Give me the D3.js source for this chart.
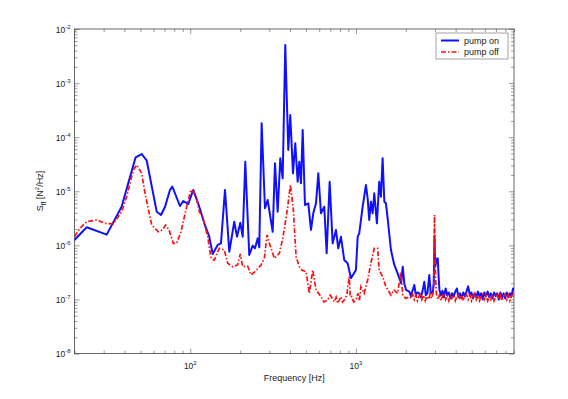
<!DOCTYPE html>
<html><head><meta charset="utf-8">
<script src="https://cdn.jsdelivr.net/npm/d3@7"></script>
<style>
body{margin:0;background:#fff;}
text{font-family:"Liberation Sans",Arial,Helvetica,sans-serif;fill:#222;}
</style></head>
<body><svg id="c" width="568" height="399"></svg>
<script>
// ---- data (frequency in Hz, S_ff in N^2/Hz) ----
const freqOn = [20,23.7,31.3,38.5,43.3,46.8,50.9,54.6,62.7,66.6,70.4,75.4,77.9,86.7,90.7,97.3,104.2,113.3,121.5,130.2,136.5,146.4,153.2,162,172,184.3,191.4,200.4,207.2,214.8,227,238,245.8,255.3,260.9,269.7,282.4,293.2,314.4,324.6,337,349.4,361.2,374.5,390.4,401.4,416.8,430.3,444.9,455,465.9,477,492.5,515.7,535.4,552.8,574,592.7,615.2,643.8,665.7,694,723.5,757.5,782.2,812,850,891,933,1000,1025,1047,1098,1122,1149,1177,1203,1231,1261,1290,1339,1382,1415,1449,1484,1517,1554,1627,1705,1785,1872,1917,1959,2006,2101,2150,2200,2252,2300,2350,2414,2460,2520,2588,2640,2700,2773,2830,2907,2950,2980,3010,3060,3117,3160,3193,3260,3330,3400,3480,3560,3640,3720,3800,3890,3980,4070,4160,4250,4350,4450,4550,4650,4760,4870,4980,5090,5210,5330,5450,5570,5700,5830,5960,6100,6240,6380,6520,6670,6820,6970,7130,7290,7450,7620,7790,7960,8140,8320,8500,8690,8880,9000];
const sffOn = [1.26e-6,2.16e-6,1.58e-6,5.19e-6,1.86e-5,4.25e-5,4.89e-5,3.68e-5,4.2e-6,3.65e-6,5.19e-6,1.06e-5,1.22e-5,5.35e-6,6.62e-6,5.82e-6,1.06e-5,5.19e-6,2.56e-6,1.45e-6,6.93e-7,1.02e-6,1.09e-6,1.06e-5,7.65e-7,2.74e-6,1.45e-6,2.63e-6,1.45e-6,3.52e-5,6.65e-7,9.9e-7,8.84e-7,1.35e-6,9.2e-7,1.81e-4,4.85e-6,6.9e-6,1.79e-6,3.29e-5,4.2e-6,4.07e-5,1.74e-5,5.06e-3,5.8e-5,2.57e-4,2.15e-5,7.71e-5,1.5e-5,3.52e-5,1.41e-5,1.36e-4,5.58e-6,6e-6,1.93e-6,3.92e-6,6e-6,2.15e-5,3.92e-6,5.19e-6,7.14e-7,1.5e-5,1.09e-6,1.93e-6,8.84e-7,1.45e-6,5.37e-7,4.67e-7,2.47e-7,3.51e-7,1.45e-6,1.67e-6,5.19e-6,7.94e-6,1.31e-5,7.42e-6,2.95e-6,6.42e-6,3.92e-6,9.18e-6,2.56e-6,1.5e-5,7.94e-6,4.07e-5,6.42e-6,6e-6,3.16e-6,8.22e-7,4.35e-7,3.05e-7,2e-7,4.04e-7,2e-7,1.5e-7,1.4e-7,1.15e-7,1.5e-7,1.85e-7,1.2e-7,1.35e-7,1.3e-7,1.1e-7,1.4e-7,2.13e-7,1.2e-7,1.3e-7,2.84e-7,1.3e-7,1.32e-7,2e-7,1.5e-6,4e-7,5.5e-7,5.8e-7,2.5e-7,1.5e-7,1.2e-7,1.45e-7,1.1e-7,1.6e-7,1.2e-7,1.35e-7,1.05e-7,1.3e-7,1.15e-7,1.4e-7,1.6e-7,1.1e-7,1.3e-7,1.05e-7,1.35e-7,1.15e-7,1.4e-7,1.75e-7,1.2e-7,1.35e-7,1.05e-7,1.3e-7,1.1e-7,1.4e-7,1.15e-7,1.3e-7,1.0e-7,1.35e-7,1.15e-7,1.4e-7,1.1e-7,1.3e-7,1.05e-7,1.35e-7,1.15e-7,1.3e-7,1.0e-7,1.35e-7,1.1e-7,1.3e-7,1.05e-7,1.35e-7,1.1e-7,1.3e-7,1.15e-7,1.6e-7,1.5e-7];
const freqOff = [20,21.6,23.7,27.2,30.6,34.3,38.5,41.3,45.3,47.5,50.9,53.3,58.5,64.1,67.8,71,74.4,79,82.8,87.9,95.1,100.9,108.2,113.3,118.8,127.4,133.4,139.6,149.6,160.4,168.2,180.3,193.2,200.4,207.2,222,232.4,245.8,267.5,280,290.7,300.3,321.8,345,361.7,383.9,402.1,419.2,435.2,455.5,471,500,523.4,548.8,574.5,615.7,640,676,700,741,760,777,812,830,850,880,911,925,942,970,1000,1030,1050,1072,1122,1177,1231,1290,1352,1382,1449,1517,1627,1700,1785,1869,1917,2000,2113,2150,2200,2250,2300,2350,2400,2450,2500,2560,2620,2680,2740,2800,2860,2920,2950,2968,2982,2996,3012,3035,3060,3120,3190,3260,3330,3400,3480,3560,3640,3720,3800,3890,3980,4070,4160,4250,4350,4450,4550,4650,4760,4870,4980,5090,5210,5330,5450,5570,5700,5830,5960,6100,6240,6380,6520,6670,6820,6970,7130,7290,7450,7620,7790,7960,8140,8320,8500,8690,8880,9000];
const sffOff = [1.45e-6,2.07e-6,2.74e-6,2.95e-6,2.56e-6,2.49e-6,4.2e-6,7.94e-6,2.48e-5,3.06e-5,2.15e-5,9.18e-6,2.38e-6,1.79e-6,1.93e-6,2.38e-6,1.93e-6,1.09e-6,1.09e-6,1.79e-6,5.19e-6,1.06e-5,8.55e-6,4.2e-6,3.39e-6,1.45e-6,5.78e-7,5.37e-7,8.84e-7,8.22e-7,4.67e-7,4.04e-7,4.35e-7,6.93e-7,4.04e-7,4.15e-7,2.84e-7,3.26e-7,4.34e-7,5.78e-7,1.56e-6,1.09e-6,5.78e-7,7.14e-7,1.35e-6,4.2e-6,1.31e-5,4.51e-6,6.18e-7,4.04e-7,3.51e-7,3.26e-7,1.3e-7,3.51e-7,1.5e-7,1.13e-7,9e-8,9.8e-8,1.2e-7,9.1e-8,1.1e-7,8.5e-8,1.13e-7,9e-8,9.8e-8,1.2e-7,2.64e-7,1.1e-7,1.13e-7,9e-8,9.8e-8,1.3e-7,9.5e-8,1.72e-7,1.3e-7,2.29e-7,4.67e-7,8.84e-7,8.84e-7,3.51e-7,2.64e-7,1.72e-7,1.21e-7,1.5e-7,1.3e-7,3.26e-7,1.21e-7,1.05e-7,1.13e-7,1.05e-7,1.25e-7,1.0e-7,1.2e-7,9.5e-8,1.15e-7,1.3e-7,1.0e-7,1.2e-7,9.5e-8,1.15e-7,1.0e-7,1.25e-7,1.05e-7,1.3e-7,2.0e-7,1.5e-6,3.65e-6,1.2e-6,4.0e-7,2.0e-7,1.3e-7,1.0e-7,1.2e-7,9.5e-8,1.15e-7,1.3e-7,1.0e-7,1.2e-7,9.5e-8,1.25e-7,1.05e-7,1.2e-7,9.5e-8,1.15e-7,1.3e-7,1.0e-7,1.2e-7,9.5e-8,1.15e-7,1.25e-7,1.0e-7,1.2e-7,9.5e-8,1.15e-7,1.3e-7,1.0e-7,1.2e-7,9.5e-8,1.15e-7,1.25e-7,1.0e-7,1.2e-7,9.5e-8,1.15e-7,1.0e-7,1.25e-7,9.5e-8,1.15e-7,1.3e-7,1.0e-7,1.2e-7,9.5e-8,1.15e-7,1.25e-7,1.0e-7,1.2e-7,9.5e-8,1.15e-7,1.25e-7,1.1e-7];
const seriesNames = ["pump on","pump off"];
const xMajorExp = [2,3];
const yMajorExp = [-8,-7,-6,-5,-4,-3,-2];
const xLabel = "Frequency [Hz]";

// ---- layout ----
const L=74.5,R=514,T=29,B=353.6;
const svg=d3.select("#c");
const x=d3.scaleLog().domain([20,9000]).range([L,R]);
const y=d3.scaleLog().domain([1e-8,1e-2]).range([B,T]);

// clip
svg.append("defs").append("clipPath").attr("id","clip").append("rect")
  .attr("x",L).attr("y",T).attr("width",R-L).attr("height",B-T);

// minor/major tick values
const xMinor=[],xMajor=[];
[10,100,1000].forEach(d=>{for(let k=1;k<10;k++){const v=d*k;if(v>=20&&v<=9000){(k===1?xMajor:xMinor).push(v);}}});
const yMinor=[],yMajor=[];
for(let e=-8;e<=-2;e++){for(let k=1;k<10;k++){const v=k*Math.pow(10,e);if(v<=1e-2+1e-12){(k===1?yMajor:yMinor).push(v);}}}

function ax(gen,vals,len,tx,ty){
  const g=svg.append("g").attr("transform",`translate(${tx},${ty})`)
    .call(gen.tickValues(vals).tickSize(len).tickFormat(""));
  g.select(".domain").remove();
  g.selectAll("line").attr("stroke","#555").attr("stroke-width",0.6);
}
// inward ticks on all sides
ax(d3.axisBottom(x),xMajor,-5,0,B); ax(d3.axisBottom(x),xMinor,-3,0,B);
ax(d3.axisTop(x),xMajor,-5,0,T); ax(d3.axisTop(x),xMinor,-3,0,T);
ax(d3.axisLeft(y),yMajor,-5,L,0); ax(d3.axisLeft(y),yMinor,-3,L,0);
ax(d3.axisRight(y),yMajor,-5,R,0); ax(d3.axisRight(y),yMinor,-3,R,0);

// frame
svg.append("rect").attr("x",L).attr("y",T).attr("width",R-L).attr("height",B-T)
  .attr("fill","none").attr("stroke","#444").attr("stroke-width",0.8);

// tick labels
xMajorExp.forEach(e=>{
  const t=svg.append("text").attr("x",x(Math.pow(10,e))).attr("y",B+15)
    .attr("text-anchor","middle").style("font-size","8.5px");
  t.append("tspan").text("10");
  t.append("tspan").attr("dy",-4).style("font-size","6px").text(e);
});
yMajorExp.forEach(e=>{
  const t=svg.append("text").attr("x",L-4).attr("y",y(Math.pow(10,e))+3.5)
    .attr("text-anchor","end").style("font-size","8.5px");
  t.append("tspan").text("10");
  t.append("tspan").attr("dy",-4).style("font-size","6px").text(e);
});

// axis titles
svg.append("text").attr("x",(L+R)/2).attr("y",381).attr("text-anchor","middle")
  .style("font-size","9px").text(xLabel);
const yl=svg.append("text").attr("transform",`translate(43,191) rotate(-90)`)
  .attr("text-anchor","middle").style("font-size","9px");
yl.append("tspan").text("S");
yl.append("tspan").attr("dy",3).style("font-size","6.5px").text("ff");
yl.append("tspan").attr("dy",-3).text(" [N");
yl.append("tspan").attr("dy",-4).style("font-size","6px").text("2");
yl.append("tspan").attr("dy",4).text("/Hz]");

// lines
const line=d3.line().x(d=>x(d[0])).y(d=>y(d[1]));
const onData=freqOn.map((f,i)=>[f,sffOn[i]]);
const offData=freqOff.map((f,i)=>[f,sffOff[i]]);
const pg=svg.append("g").attr("clip-path","url(#clip)");
pg.append("path").datum(onData).attr("d",line).attr("fill","none")
  .attr("stroke","#1010ff").attr("stroke-width",2).attr("stroke-linejoin","round");
pg.append("path").datum(offData).attr("d",line).attr("fill","none")
  .attr("stroke","#ff1010").attr("stroke-width",1.7).attr("stroke-dasharray","5,2,1.5,2");

// legend
const lg=svg.append("g");
lg.append("rect").attr("x",436).attr("y",33).attr("width",72).attr("height",26)
  .attr("fill","#fff").attr("stroke","#666").attr("stroke-width",0.6);
[["#1010ff",null,2],["#ff1010","5,2,1.5,2",1.7]].forEach((s,i)=>{
  const yy=40.5+i*11.5;
  lg.append("line").attr("x1",441).attr("x2",459).attr("y1",yy).attr("y2",yy)
    .attr("stroke",s[0]).attr("stroke-width",s[2]).attr("stroke-dasharray",s[1]);
  lg.append("text").attr("x",464).attr("y",yy+3).style("font-size","9px").text(seriesNames[i]);
});
</script></body></html>
